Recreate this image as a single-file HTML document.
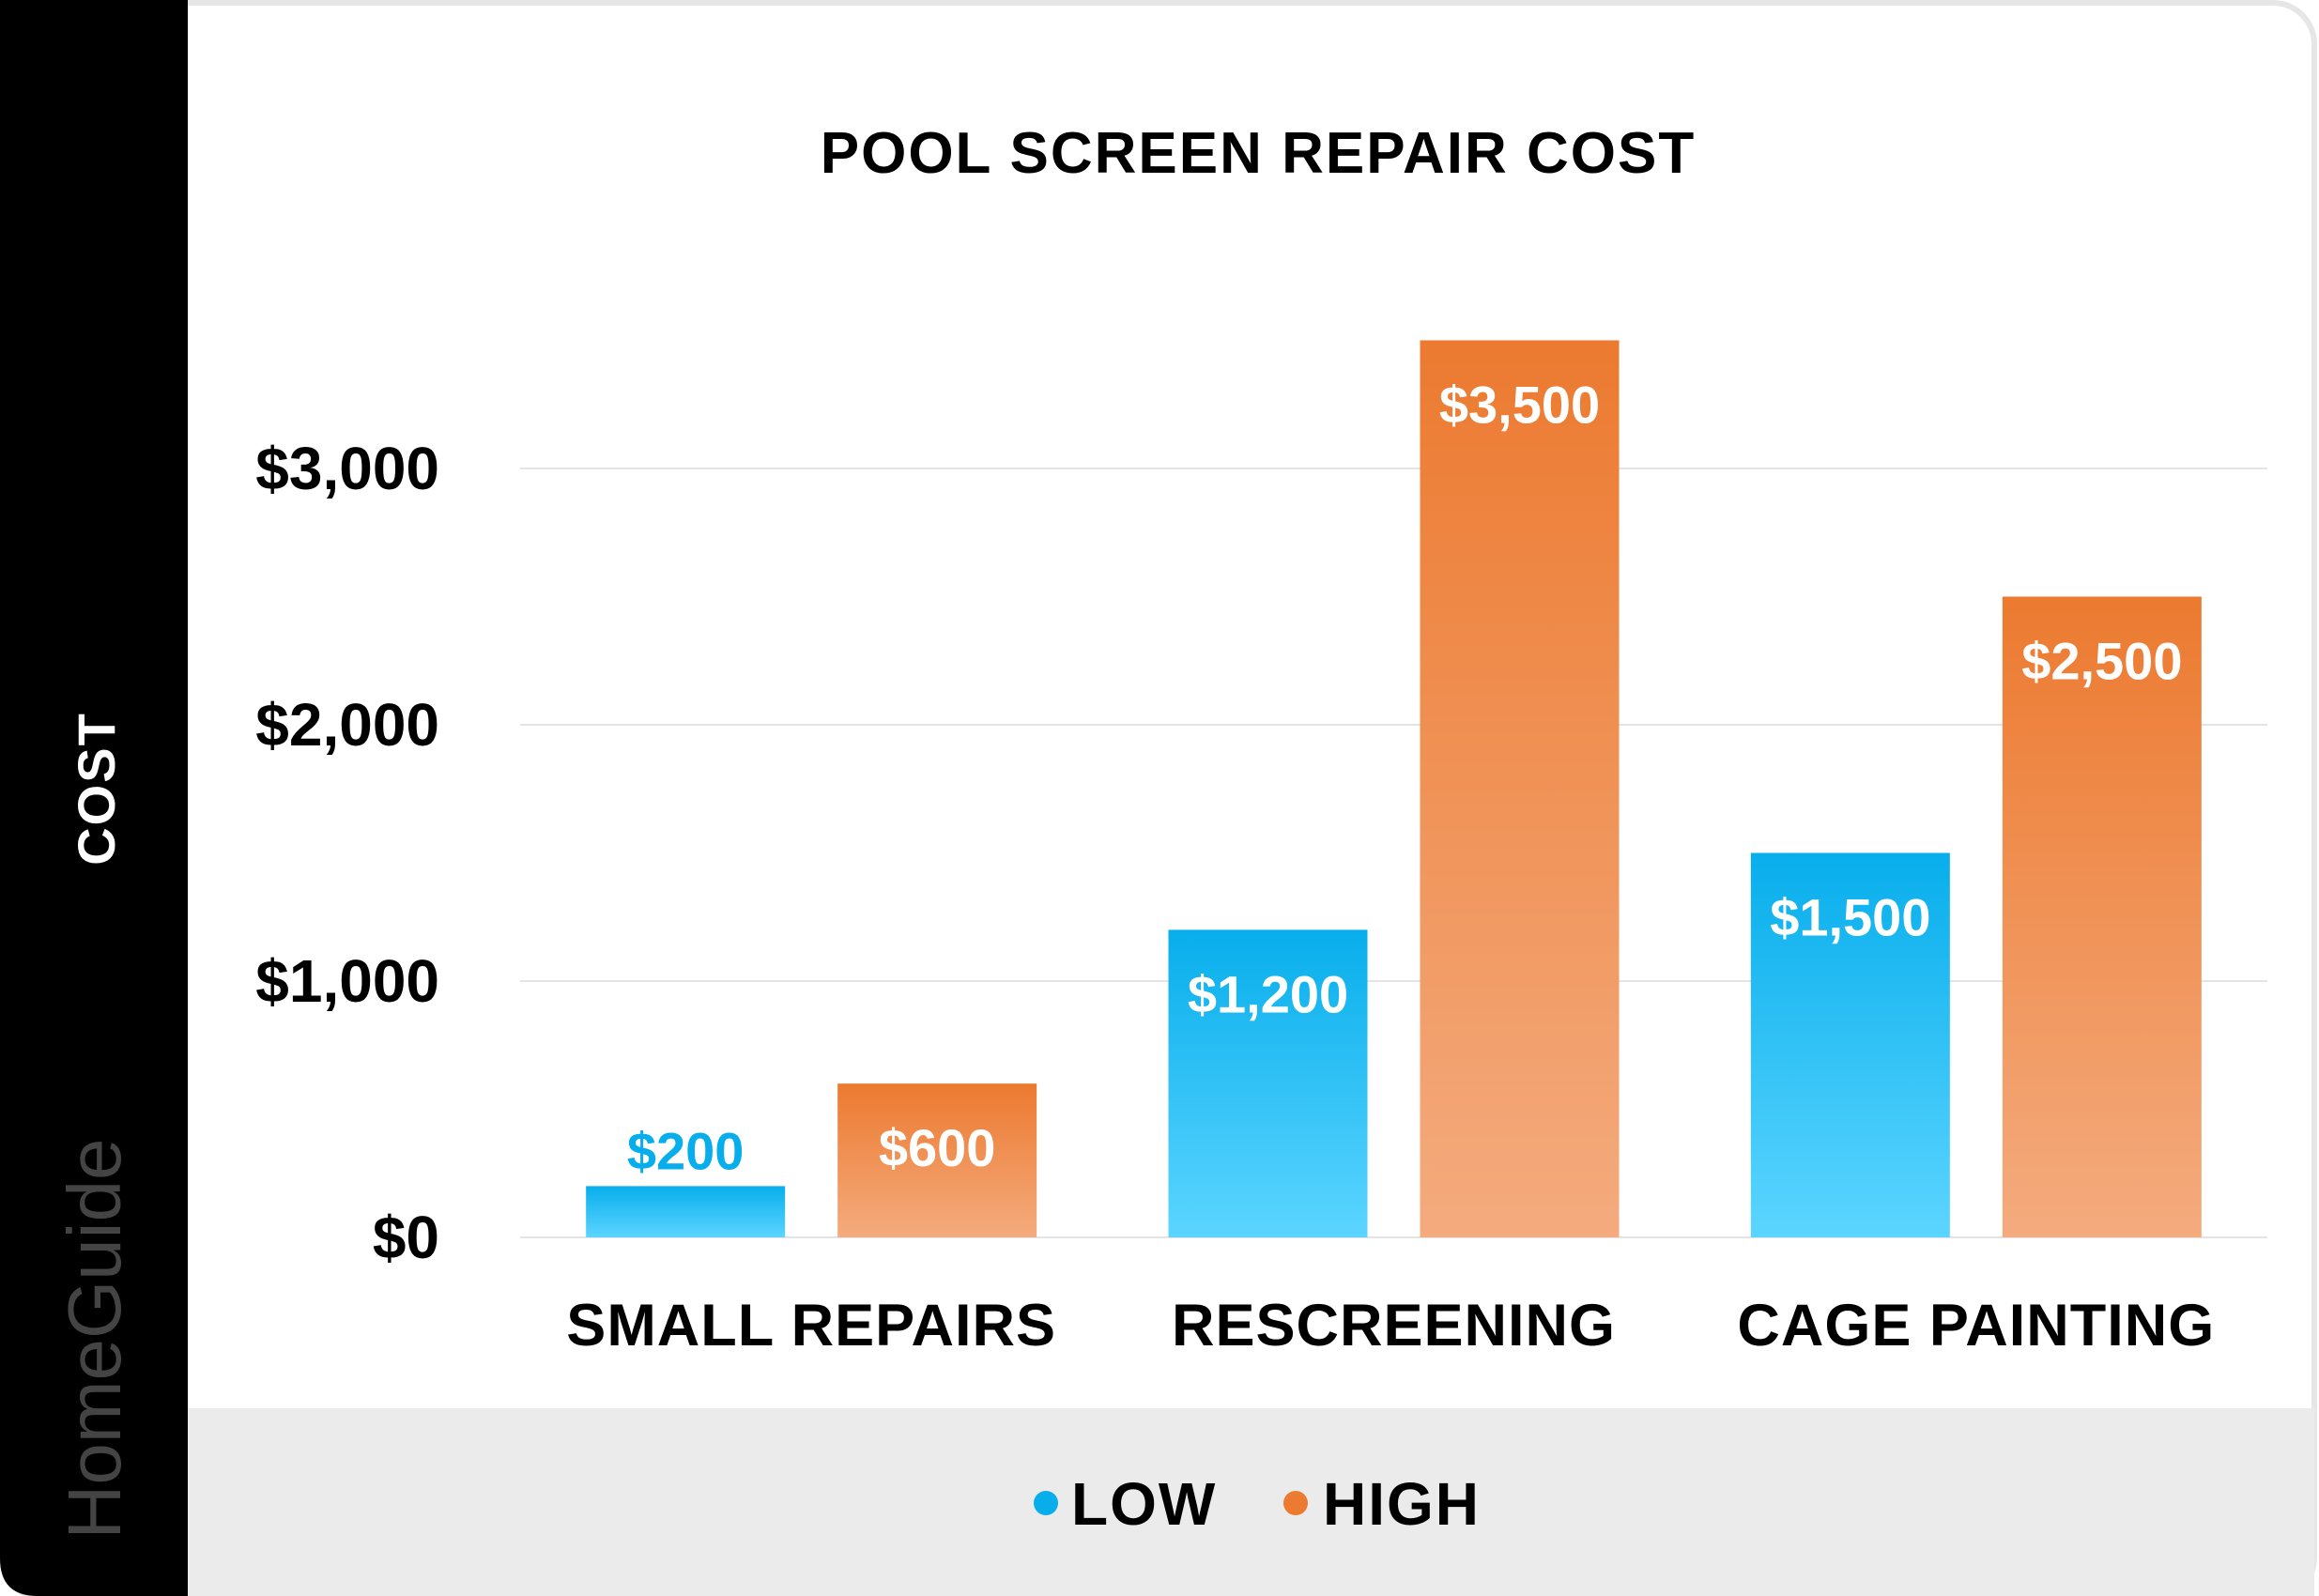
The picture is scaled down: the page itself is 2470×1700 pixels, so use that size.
<!DOCTYPE html>
<html><head><meta charset="utf-8"><style>
html,body{margin:0;padding:0;background:#fff;}
svg{display:block;font-family:"Liberation Sans",sans-serif;}
</style></head><body>
<svg id="chart" width="2470" height="1700" viewBox="0 0 2470 1700" xmlns="http://www.w3.org/2000/svg">
<defs>
<linearGradient id="gBlue" x1="0" y1="0" x2="0" y2="1"><stop offset="0" stop-color="#08aeec"/><stop offset="1" stop-color="#5bd5ff"/></linearGradient>
<linearGradient id="gOrange" x1="0" y1="0" x2="0" y2="1"><stop offset="0" stop-color="#ec7a30"/><stop offset="1" stop-color="#f4ab7e"/></linearGradient>
</defs>
<rect x="3" y="3" width="2462" height="1700" rx="44" fill="#fff" stroke="#e6e6e6" stroke-width="6"/>
<rect x="200" y="1500" width="2265" height="200" fill="#ebebeb"/>
<path d="M0 0 H200 V1700 H40 Q0 1700 0 1660 Z" fill="#000"/>
<text x="0" y="0" transform="translate(122,840) rotate(-90)" text-anchor="middle" font-size="56" font-weight="bold" fill="#fff" letter-spacing="2">COST</text>
<text x="0" y="0" transform="translate(128,1426) rotate(-90)" text-anchor="middle" font-size="80" fill="#444">HomeGuide</text>
<text x="1340" y="184" text-anchor="middle" font-size="62" font-weight="bold" fill="#000" letter-spacing="2">POOL SCREEN REPAIR COST</text>
<g id="grid"></g><g id="bars"></g><g id="labels"></g>
<g>
<circle cx="1114" cy="1601" r="13" fill="#08aeec"/>
<text x="1141" y="1624" font-size="64" font-weight="bold" fill="#000" letter-spacing="2">LOW</text>
<circle cx="1380" cy="1601" r="13" fill="#ec7a30"/>
<text x="1409" y="1624" font-size="64" font-weight="bold" fill="#000" letter-spacing="2">HIGH</text>
</g>
</svg>
<script>
const categories = ["SMALL REPAIRS", "RESCREENING", "CAGE PAINTING"];
const lowValues = [200, 1200, 1500];
const highValues = [600, 3500, 2500];
const tickValues = [0, 1000, 2000, 3000];
const tickLabels = ["$0", "$1,000", "$2,000", "$3,000"];

const NS = "http://www.w3.org/2000/svg";
const x0 = 554, x1 = 2415, y0 = 1318, pxPer = 273 / 1000;
const band = (x1 - x0) / categories.length;
const yScale = v => y0 - v * pxPer;
const xCenter = i => x0 + band * (i + 0.5);
const fmt = v => "$" + v.toLocaleString("en-US");
function mk(tag, attrs, parent, txt) {
  const e = document.createElementNS(NS, tag);
  for (const k in attrs) e.setAttribute(k, attrs[k]);
  if (txt !== undefined) e.textContent = txt;
  parent.appendChild(e);
  return e;
}
const grid = document.getElementById("grid"), bars = document.getElementById("bars"), labels = document.getElementById("labels");
tickValues.forEach((v, i) => {
  const l = mk("line", {x1: x0, x2: x1, y1: yScale(v), y2: yScale(v), stroke: "#e4e4e4", "stroke-width": 2}, grid);
  
  
  const t = mk("text", {x: 468, y: yScale(v) + 22, "text-anchor": "end", "font-size": 64, "font-weight": "bold", fill: "#000"}, labels, tickLabels[i]);
  
  
});
const bw = 212, off = 28;
categories.forEach((c, i) => {
  const cx = xCenter(i);
  [[lowValues[i], cx - off - bw, "url(#gBlue)", "#08aeec", "low"], [highValues[i], cx + off, "url(#gOrange)", "#ec7a30", "high"]].forEach(([v, bx, fill, col, s]) => {
    const top = yScale(v), h = y0 - top;
    const r = mk("rect", {x: bx, y: top, width: bw, height: h, fill: fill}, bars);
    
    
    const inside = h > 110;
    const ty = inside ? top + 88 : top - 18;
    const t = mk("text", {x: bx + bw / 2, y: ty, "text-anchor": "middle", "font-size": 56, "font-weight": "bold", fill: inside ? "#fff" : col}, labels, fmt(v));
    
    
  });
  const t = mk("text", {x: cx, y: 1433, "text-anchor": "middle", "font-size": 63, "font-weight": "bold", fill: "#000", "letter-spacing": 1}, labels, c);
  
  
});
</script>
</body></html>
